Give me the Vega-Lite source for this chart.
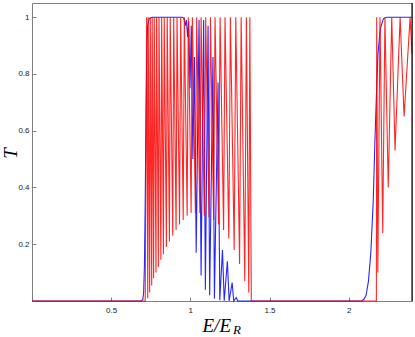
{
  "$schema": "https://vega.github.io/schema/vega-lite/v6.json",
  "width": 380,
  "height": 298,
  "autosize": {"type": "none"},
  "padding": {"left": 32, "top": 3, "right": 3, "bottom": 36},
  "config": {
    "view": {"stroke": "#808080", "strokeWidth": 1},
    "axis": {"grid": false, "domain": false, "tickColor": "#808080", "tickSize": -4, "labelFont": "Liberation Sans", "labelFontSize": 8, "labelColor": "#222222"}
  },
  "datasets": {
    "curves": [
      {"s": "blue", "x": 0, "T": 0}, {"s": "blue", "x": 0.69, "T": 0}, {"s": "blue", "x": 0.70, "T": 0.005}, {"s": "blue", "x": 0.705, "T": 0.03},
      {"s": "blue", "x": 0.71, "T": 0.12}, {"s": "blue", "x": 0.715, "T": 0.35}, {"s": "blue", "x": 0.72, "T": 0.65}, {"s": "blue", "x": 0.725, "T": 0.88},
      {"s": "blue", "x": 0.73, "T": 0.97}, {"s": "blue", "x": 0.74, "T": 0.995}, {"s": "blue", "x": 0.76, "T": 1}, {"s": "blue", "x": 0.95, "T": 1},
      {"s": "blue", "x": 0.96, "T": 0.995}, {"s": "blue", "x": 0.968, "T": 0.97}, {"s": "blue", "x": 0.975, "T": 0.99}, {"s": "blue", "x": 0.983, "T": 0.93},
      {"s": "blue", "x": 0.99, "T": 0.985}, {"s": "blue", "x": 0.998, "T": 0.75}, {"s": "blue", "x": 1.006, "T": 0.97}, {"s": "blue", "x": 1.016, "T": 0.5},
      {"s": "blue", "x": 1.026, "T": 0.86}, {"s": "blue", "x": 1.037, "T": 0.17}, {"s": "blue", "x": 1.055, "T": 0.99}, {"s": "blue", "x": 1.068, "T": 0.09},
      {"s": "blue", "x": 1.084, "T": 0.99}, {"s": "blue", "x": 1.095, "T": 0.04}, {"s": "blue", "x": 1.112, "T": 0.97}, {"s": "blue", "x": 1.122, "T": 0.02},
      {"s": "blue", "x": 1.143, "T": 0.86}, {"s": "blue", "x": 1.152, "T": 0.008}, {"s": "blue", "x": 1.175, "T": 0.77}, {"s": "blue", "x": 1.186, "T": 0.003},
      {"s": "blue", "x": 1.203, "T": 0.18}, {"s": "blue", "x": 1.214, "T": 0.001}, {"s": "blue", "x": 1.234, "T": 0.14}, {"s": "blue", "x": 1.245, "T": 0},
      {"s": "blue", "x": 1.264, "T": 0.065}, {"s": "blue", "x": 1.274, "T": 0}, {"s": "blue", "x": 1.29, "T": 0.012}, {"s": "blue", "x": 1.30, "T": 0},
      {"s": "blue", "x": 2.08, "T": 0}, {"s": "blue", "x": 2.095, "T": 0.005}, {"s": "blue", "x": 2.11, "T": 0.02}, {"s": "blue", "x": 2.125, "T": 0.07},
      {"s": "blue", "x": 2.14, "T": 0.17}, {"s": "blue", "x": 2.155, "T": 0.35}, {"s": "blue", "x": 2.165, "T": 0.55}, {"s": "blue", "x": 2.175, "T": 0.72},
      {"s": "blue", "x": 2.185, "T": 0.87}, {"s": "blue", "x": 2.2, "T": 0.96}, {"s": "blue", "x": 2.22, "T": 0.995}, {"s": "blue", "x": 2.24, "T": 1},
      {"s": "blue", "x": 2.4, "T": 1},
      {"s": "red", "x": 0, "T": 0}, {"s": "red", "x": 0.715, "T": 0},
      {"s": "red", "x": 0.724, "T": 1}, {"s": "red", "x": 0.731, "T": 0.01},
      {"s": "red", "x": 0.734, "T": 1}, {"s": "red", "x": 0.743, "T": 0.03},
      {"s": "red", "x": 0.747, "T": 1}, {"s": "red", "x": 0.756, "T": 0.055},
      {"s": "red", "x": 0.759, "T": 1}, {"s": "red", "x": 0.768, "T": 0.08},
      {"s": "red", "x": 0.772, "T": 1}, {"s": "red", "x": 0.783, "T": 0.10},
      {"s": "red", "x": 0.787, "T": 1}, {"s": "red", "x": 0.798, "T": 0.12},
      {"s": "red", "x": 0.802, "T": 1}, {"s": "red", "x": 0.814, "T": 0.145},
      {"s": "red", "x": 0.819, "T": 1}, {"s": "red", "x": 0.830, "T": 0.165},
      {"s": "red", "x": 0.835, "T": 1}, {"s": "red", "x": 0.849, "T": 0.19},
      {"s": "red", "x": 0.854, "T": 1}, {"s": "red", "x": 0.868, "T": 0.21},
      {"s": "red", "x": 0.873, "T": 1}, {"s": "red", "x": 0.889, "T": 0.23},
      {"s": "red", "x": 0.895, "T": 1}, {"s": "red", "x": 0.910, "T": 0.25},
      {"s": "red", "x": 0.916, "T": 1}, {"s": "red", "x": 0.932, "T": 0.27},
      {"s": "red", "x": 0.939, "T": 1}, {"s": "red", "x": 0.955, "T": 0.285},
      {"s": "red", "x": 0.962, "T": 1}, {"s": "red", "x": 0.980, "T": 0.30},
      {"s": "red", "x": 0.987, "T": 1}, {"s": "red", "x": 1.005, "T": 0.31},
      {"s": "red", "x": 1.013, "T": 1}, {"s": "red", "x": 1.032, "T": 0.31},
      {"s": "red", "x": 1.040, "T": 1}, {"s": "red", "x": 1.060, "T": 0.31},
      {"s": "red", "x": 1.068, "T": 1}, {"s": "red", "x": 1.088, "T": 0.30},
      {"s": "red", "x": 1.097, "T": 1}, {"s": "red", "x": 1.118, "T": 0.295},
      {"s": "red", "x": 1.127, "T": 1}, {"s": "red", "x": 1.147, "T": 0.285},
      {"s": "red", "x": 1.156, "T": 1}, {"s": "red", "x": 1.178, "T": 0.27},
      {"s": "red", "x": 1.188, "T": 1}, {"s": "red", "x": 1.210, "T": 0.25},
      {"s": "red", "x": 1.219, "T": 1}, {"s": "red", "x": 1.243, "T": 0.22},
      {"s": "red", "x": 1.253, "T": 1}, {"s": "red", "x": 1.277, "T": 0.18},
      {"s": "red", "x": 1.287, "T": 1}, {"s": "red", "x": 1.311, "T": 0.13},
      {"s": "red", "x": 1.321, "T": 1}, {"s": "red", "x": 1.344, "T": 0.07},
      {"s": "red", "x": 1.354, "T": 1}, {"s": "red", "x": 1.369, "T": 0.03},
      {"s": "red", "x": 1.376, "T": 1}, {"s": "red", "x": 1.385, "T": 0},
      {"s": "red", "x": 2.175, "T": 0}, {"s": "red", "x": 2.177, "T": 1},
      {"s": "red", "x": 2.184, "T": 0.10}, {"s": "red", "x": 2.198, "T": 1},
      {"s": "red", "x": 2.215, "T": 0.24}, {"s": "red", "x": 2.229, "T": 1},
      {"s": "red", "x": 2.25, "T": 0.40}, {"s": "red", "x": 2.272, "T": 1},
      {"s": "red", "x": 2.293, "T": 0.53}, {"s": "red", "x": 2.325, "T": 1},
      {"s": "red", "x": 2.35, "T": 0.65}, {"s": "red", "x": 2.388, "T": 1},
      {"s": "red", "x": 2.4, "T": 0.87}
    ],
    "sub": [{"x": 1.27, "T": -0.118, "t": "R"}]
  },
  "layer": [
    {
      "data": {"name": "curves"},
      "mark": {"type": "line", "strokeWidth": 1.1, "opacity": 0.85, "interpolate": "linear"},
      "encoding": {
        "x": {"field": "x", "type": "quantitative", "scale": {"domain": [0, 2.4], "nice": false, "zero": false},
          "axis": {"values": [0.5, 1, 1.5, 2], "labelExpr": "datum.value", "labelPadding": 9, "title": "E/E", "titleFont": "Liberation Serif", "titleFontStyle": "italic", "titleFontWeight": "normal", "titleFontSize": 19, "titleColor": "#000000", "titleX": 170, "titleY": 30, "titleAlign": "left", "titleBaseline": "alphabetic"}},
        "y": {"field": "T", "type": "quantitative", "scale": {"domain": [0, 1.05], "nice": false},
          "axis": {"values": [0.2, 0.4, 0.6, 0.8, 1], "labelExpr": "datum.value", "labelPadding": 7, "title": "T", "titleFont": "Liberation Serif", "titleFontStyle": "italic", "titleFontWeight": "normal", "titleFontSize": 19, "titleColor": "#000000", "titleX": -22, "titleY": 150, "titleAlign": "center", "titleBaseline": "middle", "titleAngle": -90}},
        "color": {"field": "s", "type": "nominal", "scale": {"domain": ["blue", "red"], "range": ["#0000ff", "#ff0000"]}, "legend": null},
        "order": {"field": "x", "type": "quantitative"}
      }
    },
    {
      "data": {"values": [{"x": 2.4}]},
      "mark": {"type": "rule", "color": "#111111", "strokeWidth": 1.2},
      "encoding": {"x": {"field": "x", "type": "quantitative"}}
    },
    {
      "data": {"name": "sub"},
      "mark": {"type": "text", "font": "Liberation Serif", "fontStyle": "italic", "fontSize": 13, "align": "left", "baseline": "alphabetic", "color": "#000000"},
      "encoding": {
        "x": {"field": "x", "type": "quantitative"},
        "y": {"field": "T", "type": "quantitative"},
        "text": {"field": "t"}
      }
    }
  ]
}
